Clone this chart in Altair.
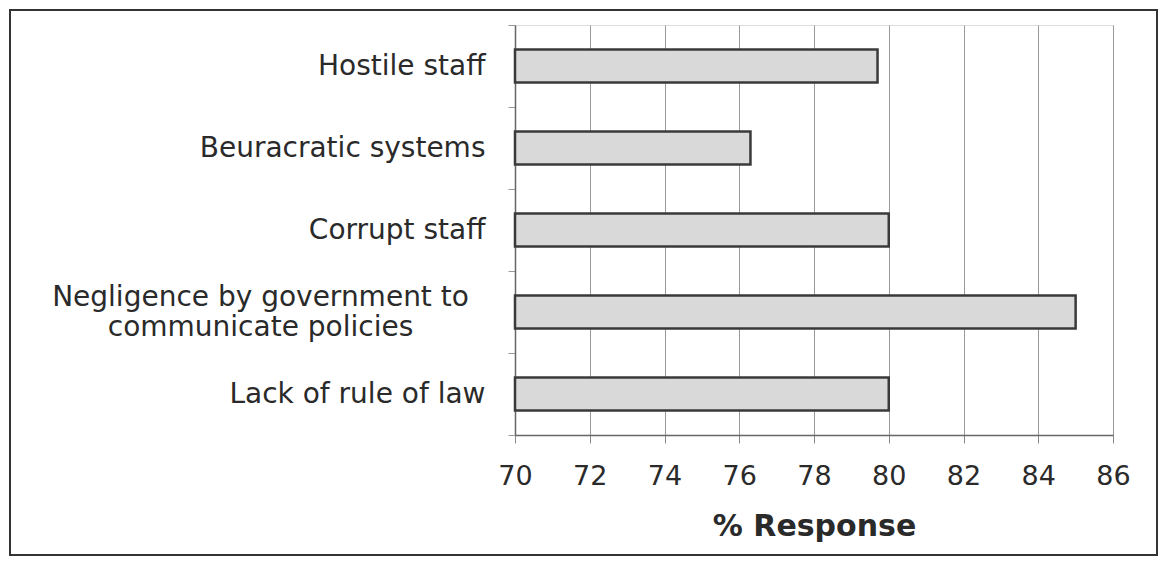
import altair as alt
import pandas as pd

categories = [
    "Hostile staff",
    "Beuracratic systems",
    "Corrupt staff",
    "Negligence by government to\ncommunicate policies",
    "Lack of rule of law",
]
values = [79.7, 76.3, 80.0, 85.0, 80.0]
axis_min = 70
axis_max = 86
tick_values = [70, 72, 74, 76, 78, 80, 82, 84, 86]

df = pd.DataFrame({"cat": categories, "value": values, "base": [axis_min] * len(values)})

FONT = "DejaVu Sans"
TEXT = "#2a2a2a"
long_label = categories[3]
long_test = "datum.value === '" + long_label.replace("\n", "\\n") + "'"

bars = alt.Chart(df).mark_bar(
    fill="#d9d9d9", stroke="#3a3a3a", strokeWidth=2.5, height={"band": 0.4}
).encode(
    y=alt.Y(
        "cat:N",
        sort=categories,
        scale=alt.Scale(paddingInner=0, paddingOuter=0),
        axis=alt.Axis(
            title=None,
            tickBand="extent",
            tickSize=7,
            tickColor="#999999",
            domainColor="#666666",
            domainWidth=1.5,
            labelFont=FONT,
            labelFontSize=28,
            labelColor=TEXT,
            labelLimit=600,
            labelLineHeight=30,
            labelExpr="split(datum.label, '\\n')",
            labelAlign={"condition": {"test": long_test, "value": "center"}, "value": "right"},
            labelPadding={"condition": {"test": long_test, "value": 248}, "value": 23},
            labelOffset={"condition": {"test": long_test, "value": -15}, "value": 0},
            grid=False,
        ),
    ),
    x=alt.X(
        "base:Q",
        scale=alt.Scale(domain=[axis_min, axis_max], zero=False, nice=False),
        axis=alt.Axis(
            title="% Response",
            values=tick_values,
            grid=True,
            gridColor="#999999",
            gridWidth=1,
            tickSize=8,
            tickColor="#888888",
            domainColor="#666666",
            domainWidth=1.5,
            labelFont=FONT,
            labelFontSize=27,
            labelColor=TEXT,
            labelPadding=20,
            labelFlush=False,
            labelBound=False,
            titleFont=FONT,
            titleFontSize=30,
            titleFontWeight="bold",
            titleColor=TEXT,
            titlePadding=22,
        ),
    ),
    x2="value:Q",
)

frame = alt.Chart(pd.DataFrame({"k": [0]})).mark_rect(
    fill=None, stroke="#333333", strokeWidth=2
).encode(
    x=alt.value(-505), x2=alt.value(642), y=alt.value(-15), y2=alt.value(530)
)

chart = alt.layer(frame, bars).properties(
    width=598,
    height=410,
    autosize=alt.AutoSizeParams(type="none"),
    padding={"left": 507, "top": 17, "right": 45, "bottom": 121},
).configure_view(stroke="#bbbbbb", strokeWidth=1).configure(background="white")

chart.save("out.html", embed_options={"renderer": "svg", "actions": False})
